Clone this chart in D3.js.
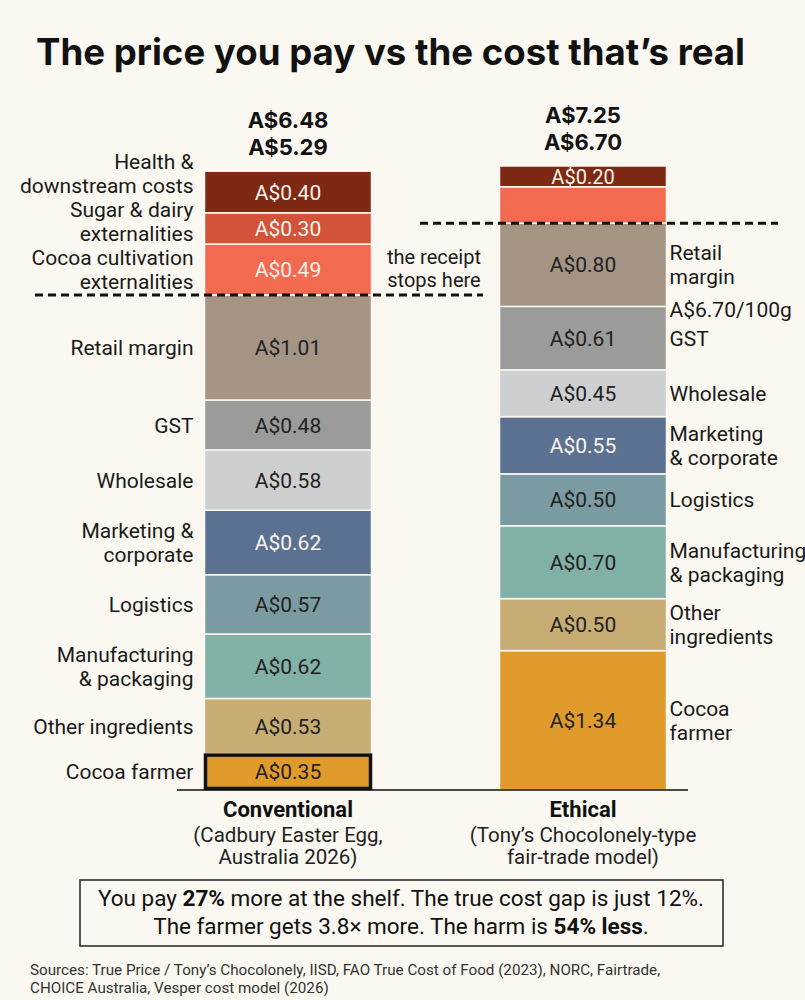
<!DOCTYPE html>
<html>
<head>
<meta charset="utf-8">
<script src="https://cdn.jsdelivr.net/npm/d3@7"></script>
<style>
  body { margin: 0; background: #fbf8f1; }
  svg { display: block; font-family: Roboto, "Noto Sans", sans-serif; }
</style>
</head>
<body>
<div id="chart"></div>
<script>
// ---- data (segments listed bottom to top) ----
const models = ["Conventional", "Ethical"];
const modelSubtitles = [
    ["(Cadbury Easter Egg,", "Australia 2026)"],
    ["(Tony’s Chocolonely-type", "fair-trade model)"]
];
const trueTotals = ["A$6.48", "A$7.25"];
const shelfTotals = ["A$5.29", "A$6.70"];

const conventionalKeys = ["farmer", "ingredients", "manufacturing", "logistics", "marketing", "wholesale", "gst", "retail", "cocoaExt", "sugarExt", "health"];
const conventionalValues = [0.35, 0.53, 0.62, 0.57, 0.62, 0.58, 0.48, 1.01, 0.49, 0.30, 0.40];
const conventionalLabels = [
    ["Cocoa farmer"], ["Other ingredients"], ["Manufacturing", "& packaging"], ["Logistics"],
    ["Marketing &", "corporate"], ["Wholesale"], ["GST"], ["Retail margin"],
    ["Cocoa cultivation", "externalities"], ["Sugar & dairy", "externalities"], ["Health &", "downstream costs"]
];
const conventionalShowValue = [true, true, true, true, true, true, true, true, true, true, true];

const ethicalKeys = ["farmer", "ingredients", "manufacturing", "logistics", "marketing", "wholesale", "gst", "retail", "cocoaExt", "health"];
const ethicalValues = [1.34, 0.50, 0.70, 0.50, 0.55, 0.45, 0.61, 0.80, 0.35, 0.20];
const ethicalLabels = [
    ["Cocoa", "farmer"], ["Other", "ingredients"], ["Manufacturing", "& packaging"], ["Logistics"],
    ["Marketing", "& corporate"], ["Wholesale"], ["GST"], ["Retail", "margin"], [], []
];
const ethicalShowValue = [true, true, true, true, true, true, true, true, false, true];

// index of last segment on the shelf receipt
const receiptEnd = [7, 7];
const ethicalPerGram = "A$6.70/100g";

const colorKeys = ["farmer", "ingredients", "manufacturing", "logistics", "marketing", "wholesale", "gst", "retail", "cocoaExt", "sugarExt", "health"];
const colorValues = ["#e09b2b", "#c7ac74", "#80b0a6", "#7b9ba2", "#5b7192", "#cdcfd0", "#9b9b99", "#a49484", "#f26a50", "#d3533a", "#7e2914"];
const lightTextKeys = ["marketing", "cocoaExt", "sugarExt", "health"];

const calloutLine1 = [["You pay ", false], ["27%", true], [" more at the shelf. The true cost gap is just 12%.", false]];
const calloutLine2 = [["The farmer gets 3.8× more. The harm is ", false], ["54% less", true], [".", false]];
const sources = [
    "Sources: True Price / Tony’s Chocolonely, IISD, FAO True Cost of Food (2023), NORC, Fairtrade,",
    "CHOICE Australia, Vesper cost model (2026)"
];

function buildStack(keys, values, labels, show) {
    let acc = 0;
    return values.map((v, i) => {
        const d = { key: keys[i], value: v, y0: acc, y1: acc + v, label: labels[i], show: show[i] };
        acc += v;
        return d;
    });
}

function drawChart() {
    const width = 805, height = 1000;
    const baseY = 790, barW = 167;

    const svg = d3.select("#chart").append("svg")
        .attr("width", width)
        .attr("height", height);

    svg.append("rect").attr("width", width).attr("height", height).attr("fill", "#fbf8f1");

    const stacks = [
        buildStack(conventionalKeys, conventionalValues, conventionalLabels, conventionalShowValue),
        buildStack(ethicalKeys, ethicalValues, ethicalLabels, ethicalShowValue)
    ];

    const x = d3.scalePoint().domain(models).range([288, 583]);
    const y = d3.scaleLinear().domain([0, 6]).range([baseY, baseY - 624]);
    const color = d3.scaleOrdinal().domain(colorKeys).range(colorValues);

    // title
    svg.append("text")
        .attr("x", 36)
        .attr("y", 65)
        .attr("textLength", 709)
        .attr("lengthAdjust", "spacingAndGlyphs")
        .style("font-family", "Inter, Roboto, sans-serif")
        .style("font-size", "37px")
        .style("font-weight", "bold")
        .style("fill", "#111")
        .text("The price you pay vs the cost that’s real");

    const dashExtent = [[35, 483], [420, 778]];

    models.forEach((m, mi) => {
        const stack = stacks[mi];
        const cx = x(m);
        const g = svg.append("g");

        g.selectAll("rect.seg")
            .data(stack)
            .enter()
            .append("rect")
            .attr("class", "seg")
            .attr("x", cx - barW / 2)
            .attr("width", barW)
            .attr("y", d => y(d.y1))
            .attr("height", d => y(d.y0) - y(d.y1))
            .style("fill", d => color(d.key))
            .style("stroke", "#fbf8f1")
            .style("stroke-width", 1.5);

        g.selectAll("text.val")
            .data(stack.filter(d => d.show))
            .enter()
            .append("text")
            .attr("class", "val")
            .attr("x", cx)
            .attr("y", d => (y(d.y0) + y(d.y1)) / 2)
            .attr("dy", "0.36em")
            .attr("text-anchor", "middle")
            .style("font-size", d => (d.value < 0.25 ? "20px" : "21px"))
            .style("fill", d => lightTextKeys.includes(d.key) ? "#fbf3ea" : "#222")
            .text(d => "A$" + d.value.toFixed(2));

        // side labels, pushed apart when they would collide
        const lineH = 24;
        const labelled = stack.filter(d => d.label.length > 0).map(d => ({
            d: d,
            cy: (y(d.y0) + y(d.y1)) / 2,
            half: d.label.length * lineH / 2
        }));
        for (let i = 1; i < labelled.length; i++) {
            const below = labelled[i - 1], cur = labelled[i];
            const limit = below.cy - below.half;
            if (cur.cy + cur.half > limit) cur.cy = limit - cur.half;
        }

        const isLeft = mi === 0;
        const lx = isLeft ? cx - barW / 2 - 11 : cx + barW / 2 + 3;
        labelled.forEach(l => {
            const t = svg.append("text")
                .attr("x", lx)
                .attr("text-anchor", isLeft ? "end" : "start")
                .style("font-size", "21px")
                .style("fill", "#1a1a1a");
            l.d.label.forEach((line, li) => {
                t.append("tspan")
                    .attr("x", lx)
                    .attr("y", l.cy - l.half + lineH * li + lineH / 2)
                    .attr("dy", "0.36em")
                    .text(line);
            });
        });

        // shelf per-100g note on the ethical side
        if (!isLeft) {
            const gst = stack[6];
            svg.append("text")
                .attr("x", lx)
                .attr("y", y(gst.y1) + 3)
                .attr("dy", "0.36em")
                .style("font-size", "21px")
                .style("fill", "#1a1a1a")
                .text(ethicalPerGram);
        }

        // totals above bar
        const top = y(stack[stack.length - 1].y1);
        [trueTotals[mi], shelfTotals[mi]].forEach((t, ti) => {
            svg.append("text")
                .attr("x", cx)
                .attr("y", top - 51 + ti * 27)
                .attr("dy", "0.36em")
                .attr("text-anchor", "middle")
                .style("font-family", "Inter, Roboto, sans-serif")
                .style("font-size", "22px")
                .style("font-weight", "bold")
                .style("fill", "#111")
                .text(t);
        });

        // receipt line
        const ry = y(stack[receiptEnd[mi]].y1);
        svg.append("line")
            .attr("x1", dashExtent[mi][0])
            .attr("x2", dashExtent[mi][1])
            .attr("y1", ry)
            .attr("y2", ry)
            .style("stroke", "#111")
            .style("stroke-width", 3)
            .style("stroke-dasharray", "8,5");

        // category labels
        svg.append("text")
            .attr("x", cx)
            .attr("y", baseY + 27)
            .attr("text-anchor", "middle")
            .style("font-size", "22px")
            .style("font-weight", "bold")
            .style("fill", "#111")
            .text(m);
        modelSubtitles[mi].forEach((s, si) => {
            svg.append("text")
                .attr("x", cx)
                .attr("y", baseY + 52 + si * 22)
                .attr("text-anchor", "middle")
                .style("font-size", "20.5px")
                .style("fill", "#222")
                .text(s);
        });
    });

    // highlight the conventional cocoa farmer share
    const farmer = stacks[0][0];
    svg.append("rect")
        .attr("x", x(models[0]) - barW / 2 + 1)
        .attr("width", barW - 2)
        .attr("y", y(farmer.y1) + 1.5)
        .attr("height", y(farmer.y0) - y(farmer.y1) - 3)
        .style("fill", "none")
        .style("stroke", "#111")
        .style("stroke-width", 3.5);

    // "the receipt stops here"
    const leftReceiptY = y(stacks[0][receiptEnd[0]].y1);
    ["the receipt", "stops here"].forEach((s, i) => {
        svg.append("text")
            .attr("x", 434)
            .attr("y", leftReceiptY - 38 + i * 23)
            .attr("dy", "0.36em")
            .attr("text-anchor", "middle")
            .style("font-size", "20px")
            .style("fill", "#1a1a1a")
            .text(s);
    });

    // baseline
    svg.append("line")
        .attr("x1", 177).attr("x2", 688)
        .attr("y1", baseY).attr("y2", baseY)
        .style("stroke", "#111")
        .style("stroke-width", 1.5);

    // callout box
    svg.append("rect")
        .attr("x", 80).attr("y", 880)
        .attr("width", 643).attr("height", 66)
        .style("fill", "none")
        .style("stroke", "#222")
        .style("stroke-width", 1.5);

    [calloutLine1, calloutLine2].forEach((parts, i) => {
        const t = svg.append("text")
            .attr("x", 401)
            .attr("y", 898 + i * 28)
            .attr("dy", "0.36em")
            .attr("text-anchor", "middle")
            .style("font-size", "22.5px")
            .style("fill", "#111");
        parts.forEach(p => {
            t.append("tspan")
                .style("font-weight", p[1] ? "bold" : "normal")
                .text(p[0]);
        });
    });

    sources.forEach((s, i) => {
        svg.append("text")
            .attr("x", 30)
            .attr("y", 970 + i * 18)
            .attr("dy", "0.36em")
            .style("font-size", "15.2px")
            .style("fill", "#333")
            .text(s);
    });
}

drawChart();
</script>
</body>
</html>
